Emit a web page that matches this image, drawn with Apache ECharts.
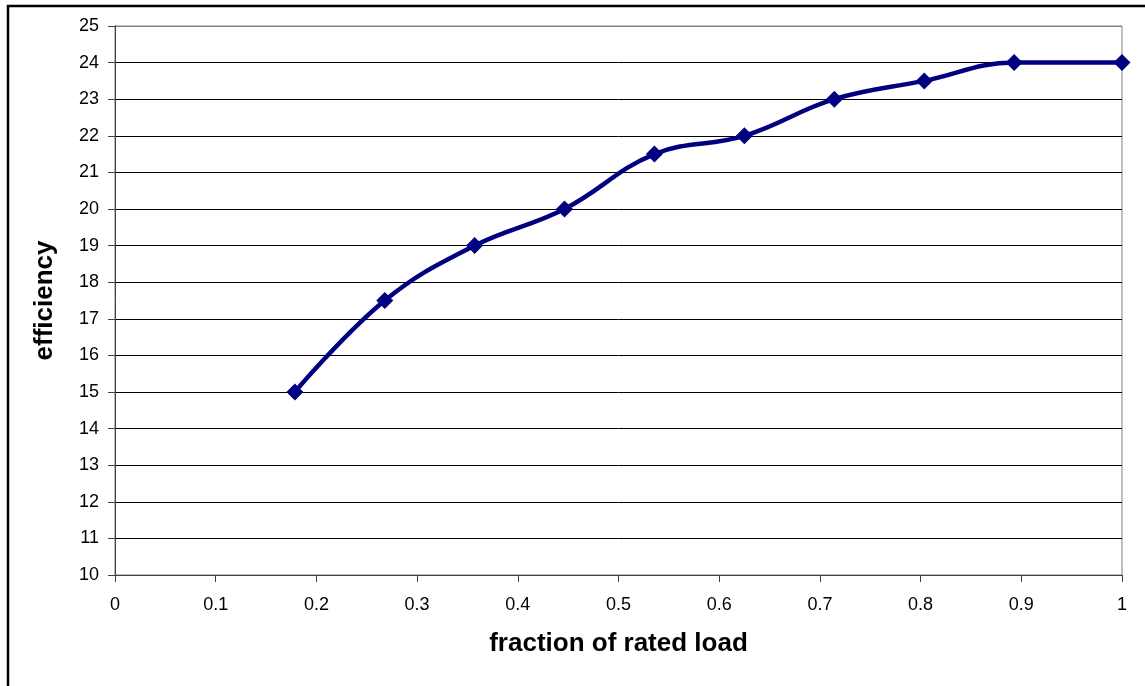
<!DOCTYPE html>
<html>
<head>
<meta charset="utf-8">
<script src="https://cdn.jsdelivr.net/npm/echarts@6/dist/echarts.min.js"></script>
<style>html,body{margin:0;padding:0;background:#fff;}#chart{width:1145px;height:686px;}</style>
</head>
<body>
<div id="chart"></div>
<script>
const loadFraction = [0.1786, 0.2679, 0.3571, 0.4464, 0.5357, 0.625, 0.7143, 0.8036, 0.8929, 1.0];
const efficiency = [15, 17.5, 19, 20, 21.5, 22, 23, 23.5, 24, 24];
const xAxisTitle = 'fraction of rated load';
const yAxisTitle = 'efficiency';

const chart = echarts.init(document.getElementById('chart'), null, {renderer: 'canvas'});
const gridColors = [];
for (let i = 0; i < 15; i++) gridColors.push('#000000');
gridColors.push('#808080');

chart.setOption({
  animation: false,
  backgroundColor: '#ffffff',
  textStyle: {fontFamily: 'Arial, "Liberation Sans", sans-serif'},
  graphic: [{
    type: 'rect', silent: true,
    shape: {x: 8, y: 6, width: 1300, height: 900},
    style: {fill: 'none', stroke: '#000', lineWidth: 2.5}
  }],
  grid: {left: 115, right: 23, top: 26, bottom: 111, show: true, borderColor: '#808080', borderWidth: 1},
  xAxis: {
    type: 'value', min: 0, max: 1, interval: 0.1,
    name: xAxisTitle, nameLocation: 'middle', nameGap: 56,
    nameTextStyle: {fontSize: 26, fontWeight: 'bold', color: '#000'},
    axisLine: {show: true, lineStyle: {color: '#404040', width: 1}},
    axisTick: {show: true, length: 7, lineStyle: {color: '#404040'}},
    axisLabel: {fontSize: 18, color: '#000', margin: 21,
      formatter: v => String(+v.toFixed(1))},
    splitLine: {show: false}
  },
  yAxis: {
    type: 'value', min: 10, max: 25, interval: 1,
    name: yAxisTitle, nameLocation: 'middle', nameGap: 57, nameRotate: 90,
    nameTextStyle: {fontSize: 26, fontWeight: 'bold', color: '#000'},
    axisLine: {show: true, lineStyle: {color: '#404040', width: 1}},
    axisTick: {show: true, length: 7, lineStyle: {color: '#404040'}},
    axisLabel: {fontSize: 18, color: '#000', margin: 16},
    splitLine: {show: true, lineStyle: {color: gridColors, width: 1}}
  },
  series: [{
    type: 'line',
    data: loadFraction.map((x, i) => [x, efficiency[i]]),
    smooth: 0.4,
    symbol: 'diamond', symbolSize: 17,
    lineStyle: {color: '#000080', width: 4.5},
    itemStyle: {color: '#000080'}
  }]
});
</script>
</body>
</html>
